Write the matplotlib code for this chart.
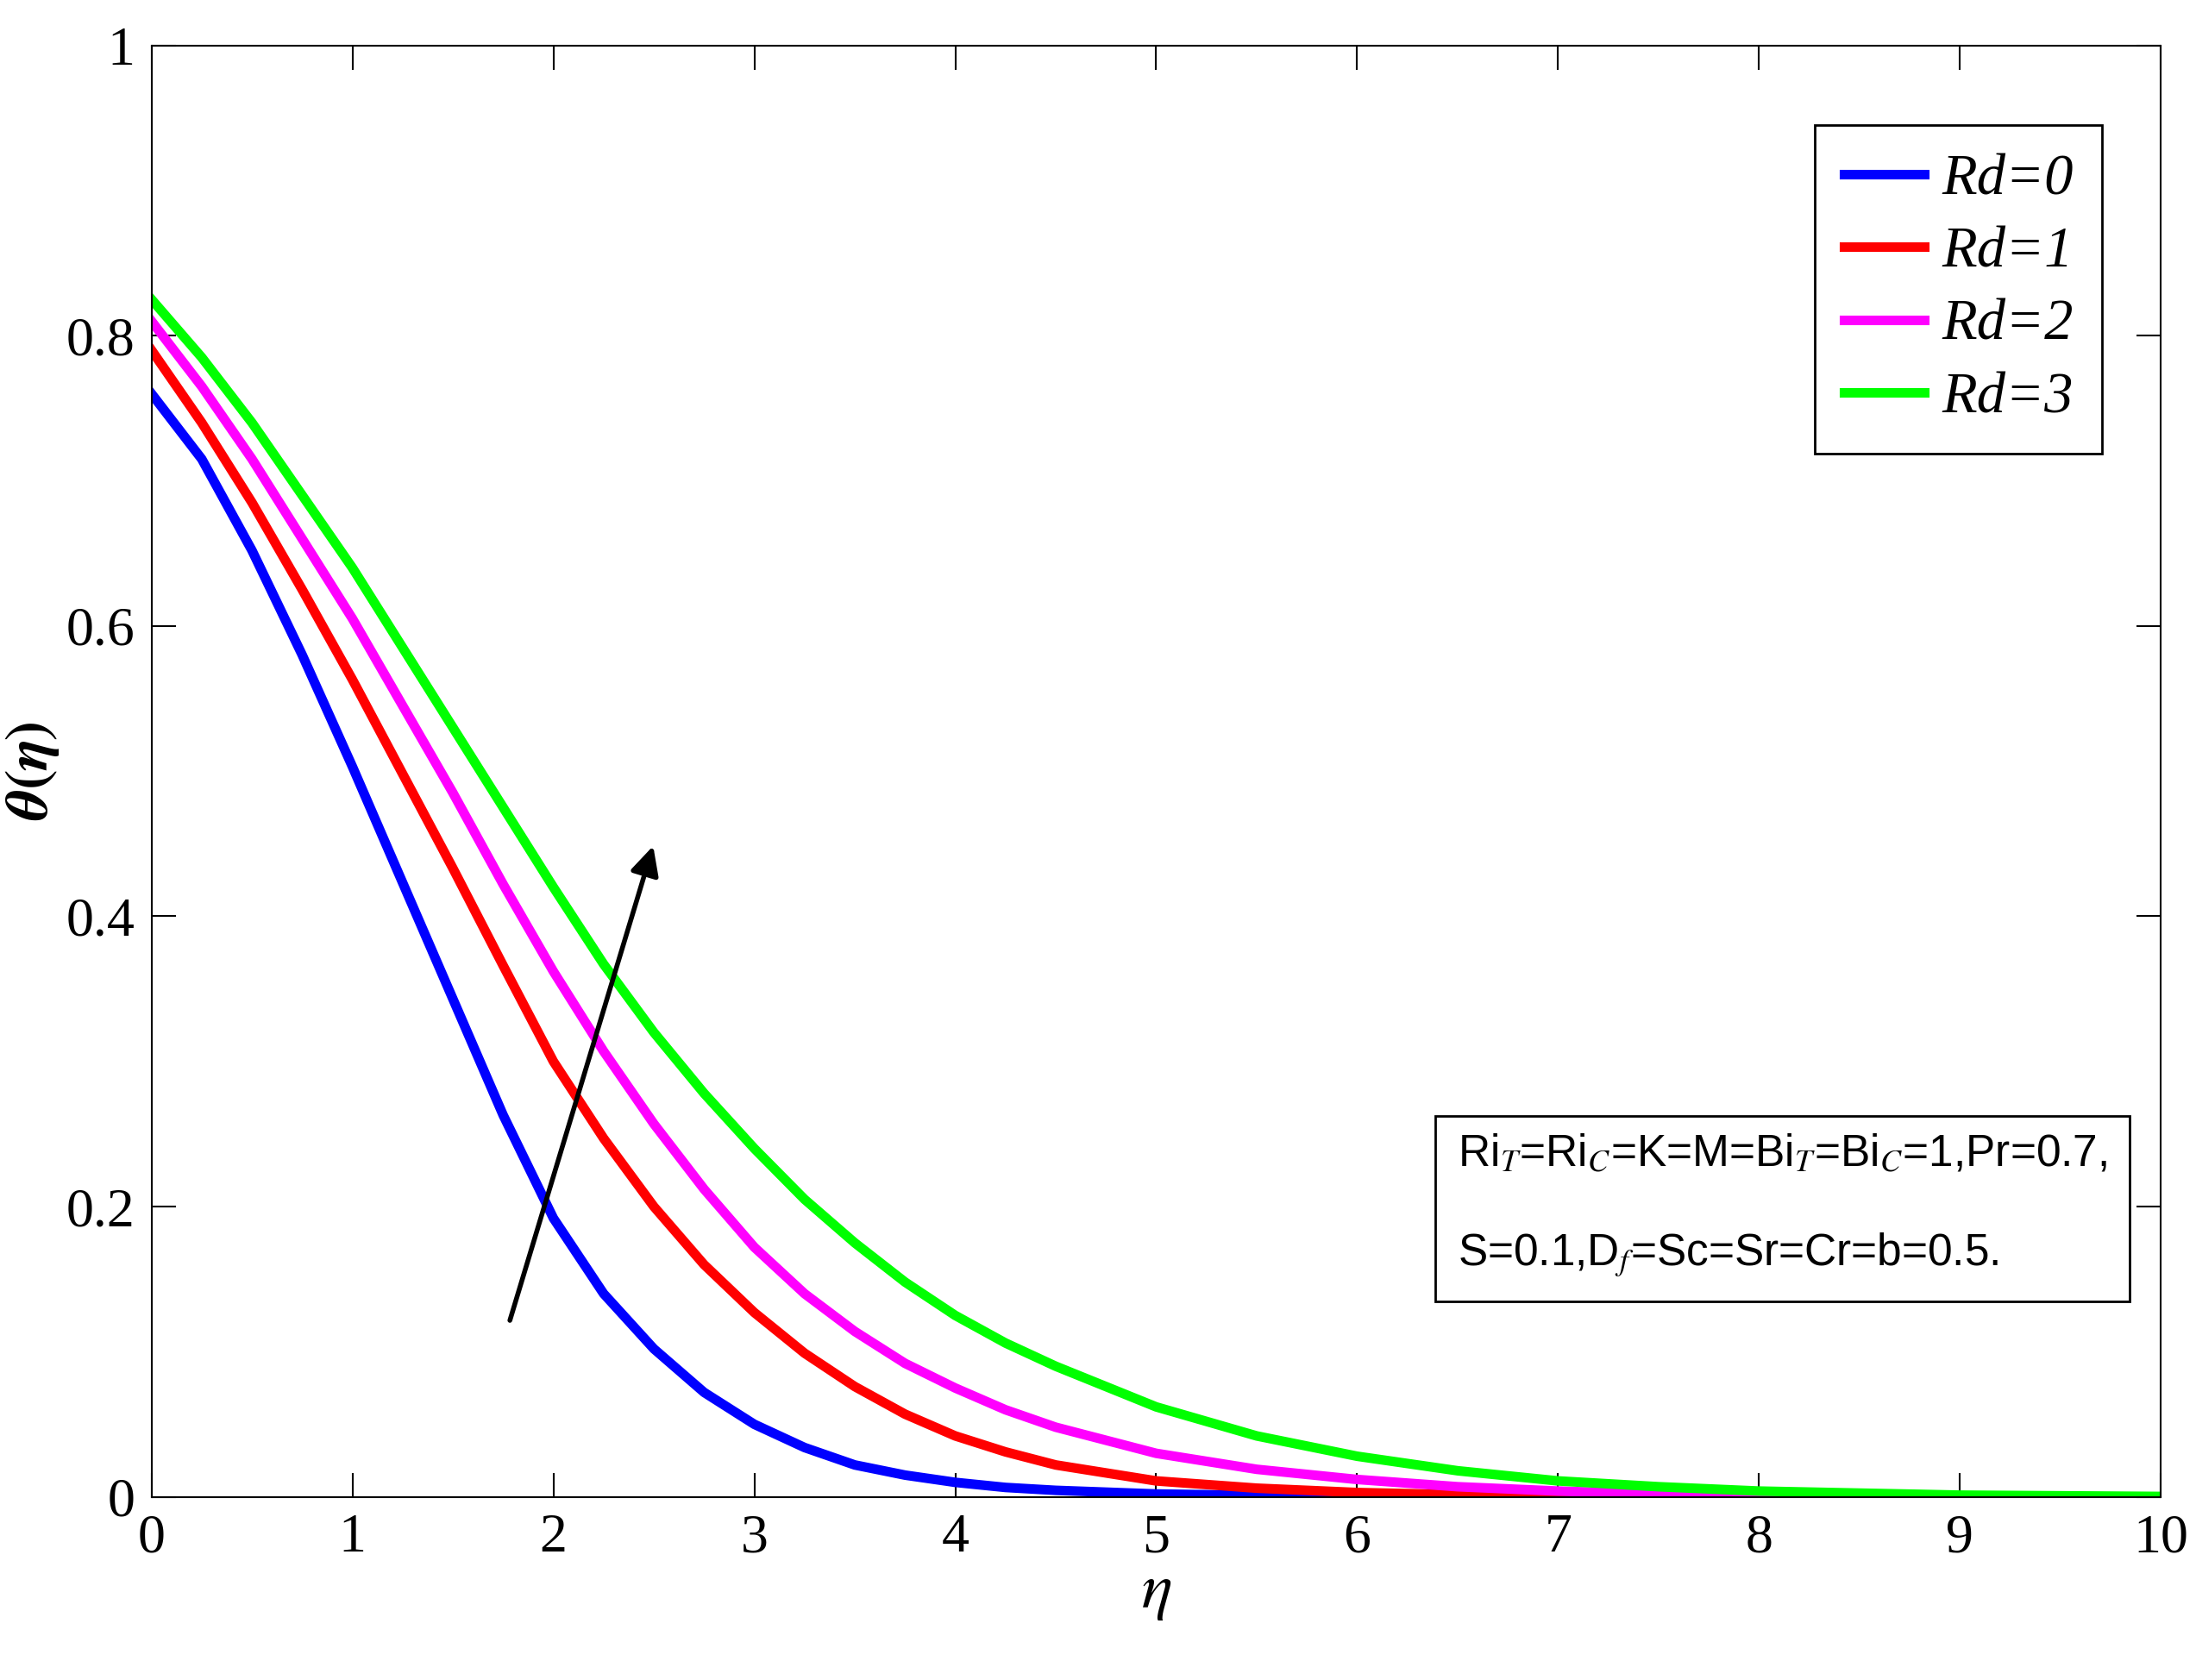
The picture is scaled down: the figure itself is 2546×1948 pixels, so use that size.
import matplotlib
matplotlib.use("Agg")
import matplotlib.pyplot as plt
import numpy as np

eta = [0, 0.25, 0.5, 0.75, 1, 1.25, 1.5, 1.75, 2, 2.25, 2.5, 2.75, 3, 3.25, 3.5, 3.75, 4, 4.25, 4.5, 5, 5.5, 6, 6.5, 7, 7.5, 8, 9, 10]
rd0 = [0.76, 0.715, 0.652, 0.58, 0.503, 0.423, 0.343, 0.263, 0.192, 0.14, 0.102, 0.072, 0.05, 0.034, 0.022, 0.015, 0.01, 0.0065, 0.0045, 0.002, 0.001, 0.0005, 0.0002, 0.0001, 0, 0, 0, 0]
rd1 = [0.79, 0.74, 0.685, 0.625, 0.563, 0.498, 0.433, 0.366, 0.30, 0.247, 0.20, 0.16, 0.127, 0.099, 0.076, 0.057, 0.042, 0.031, 0.022, 0.011, 0.006, 0.003, 0.0015, 0.0008, 0.0004, 0.0002, 0, 0]
rd2 = [0.81, 0.765, 0.715, 0.66, 0.605, 0.545, 0.485, 0.422, 0.362, 0.307, 0.257, 0.212, 0.172, 0.14, 0.114, 0.092, 0.075, 0.06, 0.048, 0.03, 0.019, 0.012, 0.007, 0.004, 0.002, 0.001, 0.0003, 0]
rd3 = [0.825, 0.785, 0.74, 0.69, 0.64, 0.585, 0.53, 0.475, 0.42, 0.367, 0.32, 0.278, 0.24, 0.205, 0.175, 0.148, 0.125, 0.106, 0.09, 0.062, 0.042, 0.028, 0.018, 0.011, 0.007, 0.004, 0.0012, 0.0003]
labels = ["Rd=0", "Rd=1", "Rd=2", "Rd=3"]
colors = ["#0000ff", "#ff0000", "#ff00ff", "#00ff00"]

plt.rcParams['font.family'] = ['Liberation Serif']
plt.rcParams['mathtext.fontset'] = 'stix'
fig = plt.figure(figsize=(25.46, 19.48), dpi=100)
ax = fig.add_axes([0.069, 0.109, 0.915, 0.864])
for y, lab, c in zip([rd0, rd1, rd2, rd3], labels, colors):
    ax.plot(eta, y, color=c, lw=8, label=lab, solid_joinstyle='round')
ax.set_xlim(0, 10)
ax.set_ylim(0, 1)
ax.set_xticks(range(0, 11))
ax.set_yticks([0, 0.2, 0.4, 0.6, 0.8, 1])
ax.set_yticklabels(["0", "0.2", "0.4", "0.6", "0.8", "1"])
ax.tick_params(direction='in', length=20, width=1.5, labelsize=46, top=True, right=True, pad=14)
for s in ax.spines.values():
    s.set_linewidth(1.5)
ax.set_xlabel(r"$\eta$", fontsize=54, labelpad=0)
ax.set_ylabel(r"$\boldsymbol{\theta(\eta)}$", fontsize=50, labelpad=4)
leg = ax.legend(loc='upper right', bbox_to_anchor=(0.985, 0.965), prop={'size': 48, 'style': 'italic'},
                fancybox=False, edgecolor='black', framealpha=1, handlelength=1.4, handletextpad=0.3,
                borderpad=0.5, labelspacing=0.35)
leg.get_frame().set_linewidth(2)
ax.annotate("", xy=(2.5, 0.45), xytext=(1.78, 0.12),
            arrowprops=dict(arrowstyle='-|>', color='black', lw=4, mutation_scale=50))
ax.text(0.65, 0.2, "Ri$_T$=Ri$_C$=K=M=Bi$_T$=Bi$_C$=1,Pr=0.7,\n\nS=0.1,D$_f$=Sc=Sr=Cr=b=0.5.",
        transform=ax.transAxes, fontsize=37, family='Liberation Sans', va='center', ha='left',
        bbox=dict(boxstyle='square,pad=0.5', fc='white', ec='black', lw=2))
fig.savefig("out.png", dpi=100)
